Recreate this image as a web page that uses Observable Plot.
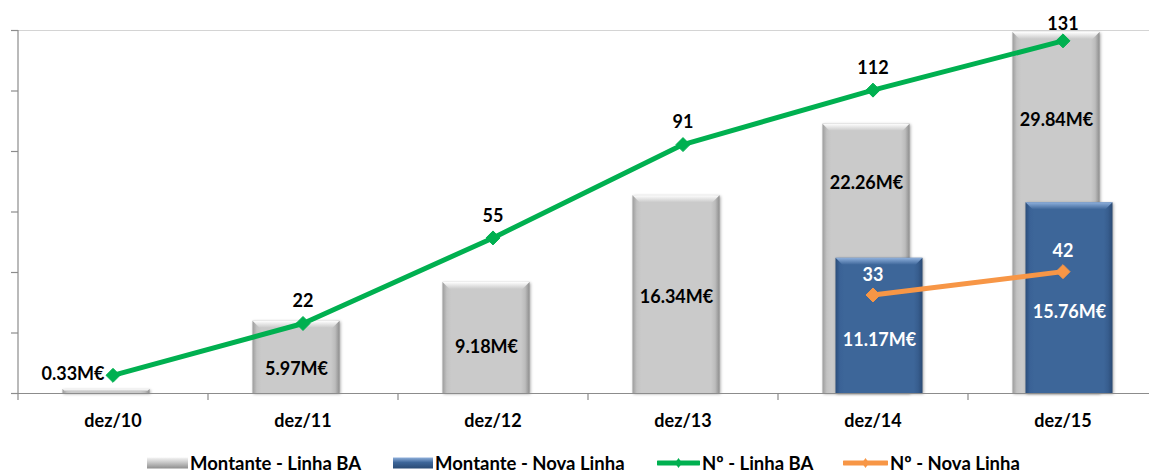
<!DOCTYPE html>
<html>
<head>
<meta charset="utf-8">
<script src="https://cdn.jsdelivr.net/npm/d3@7"></script>
<script src="https://cdn.jsdelivr.net/npm/@observablehq/plot@0.6"></script>
<style>
  html, body { margin: 0; padding: 0; background: #fff; overflow: hidden; }
  #chart { width: 1149px; height: 440px; }
  #legend { position: relative; width: 1149px; height: 32px; font-family: Lato, "Open Sans", sans-serif; font-weight: 700; font-size: 18.5px; color: #000; }
  .item { position: absolute; top: 12px; height: 22px; display: flex; align-items: center; white-space: nowrap; }
  .item svg { display: block; margin-right: 2px; }
</style>
</head>
<body>
<div id="chart"></div>
<div id="legend"></div>
<script>
// ---- data ----
const categories = ["dez/10", "dez/11", "dez/12", "dez/13", "dez/14", "dez/15"];
const montanteBA = [0.33, 5.97, 9.18, 16.34, 22.26, 29.84];        // M€
const montanteNova = [null, null, null, null, 11.17, 15.76];       // M€
const numBA = [2, 22, 55, 91, 112, 131];                           // Nº
const numNova = [null, null, null, null, 33, 42];                  // Nº
// where each amount label sits, in M€ on the amount axis
const labelAtBA = [1.57, 1.98, 3.8, 7.93, 17.36, 22.56];
const labelAtNova = [null, null, null, null, 4.38, 6.69];
const amountTicks = [0, 5, 10, 15, 20, 25, 30];
const countDomain = [-5, 135];   // secondary axis (Nº), shares the plot height
const amountDomain = [0, 30];

const fmtM = v => v.toFixed(2) + "M€";
const toAmount = n => amountDomain[0] + (n - countDomain[0]) * (amountDomain[1] - amountDomain[0]) / (countDomain[1] - countDomain[0]);

const rows = categories.map((c, i) => ({
  cat: c, ba: montanteBA[i], nova: montanteNova[i], nBA: numBA[i], nNova: numNova[i],
  lBA: labelAtBA[i], lNova: labelAtNova[i]
}));
const rowsNova = rows.filter(d => d.nova != null);

const font = "Lato, 'Open Sans', sans-serif";
const BAR_SHIFT = 6.5;
const FS = 18;

const defs = () => {
  const g = document.createElementNS("http://www.w3.org/2000/svg", "defs");
  g.innerHTML = `
    <linearGradient id="grayGrad" x1="0" x2="1" y1="0" y2="0">
      <stop offset="0" stop-color="#9c9c9c"/>
      <stop offset="0.05" stop-color="#c2c2c2"/>
      <stop offset="0.1" stop-color="#cacaca"/>
      <stop offset="0.9" stop-color="#cacaca"/>
      <stop offset="0.95" stop-color="#bcbcbc"/>
      <stop offset="1" stop-color="#8e8e8e"/>
    </linearGradient>
    <linearGradient id="blueGrad" x1="0" x2="1" y1="0" y2="0">
      <stop offset="0" stop-color="#2b4d7a"/>
      <stop offset="0.05" stop-color="#3a6296"/>
      <stop offset="0.1" stop-color="#3d6699"/>
      <stop offset="0.9" stop-color="#3d6699"/>
      <stop offset="0.95" stop-color="#375d8e"/>
      <stop offset="1" stop-color="#2a4a74"/>
    </linearGradient>
    <linearGradient id="grayTop" x1="0" x2="0" y1="0" y2="1">
      <stop offset="0" stop-color="#ffffff"/>
      <stop offset="1" stop-color="#cacaca"/>
    </linearGradient>
    <linearGradient id="blueTop" x1="0" x2="0" y1="0" y2="1">
      <stop offset="0" stop-color="#8fb0dc"/>
      <stop offset="1" stop-color="#3d6699"/>
    </linearGradient>`;
  return g;
};

const chart = Plot.plot({
  width: 1149,
  height: 440,
  marginLeft: 18,
  marginRight: 0,
  marginTop: 30,
  marginBottom: 47,
  style: { fontFamily: font, background: "#fff", overflow: "visible" },
  x: { type: "band", domain: categories, range: [18, 1158], paddingInner: 0.542, paddingOuter: 0.271, axis: null },
  y: { domain: amountDomain, axis: null },
  marks: [
    defs,
    Plot.ruleY([amountDomain[1]], { stroke: "#d4d4d4", strokeWidth: 1 }),
    Plot.barY(rows, { x: "cat", y: "ba", fill: "url(#grayGrad)", dx: -BAR_SHIFT }),
    Plot.barY(rowsNova, { x: "cat", y: "nova", fill: "url(#blueGrad)", dx: BAR_SHIFT }),
    Plot.ruleY([0], { stroke: "#8c8c8c", strokeWidth: 1.2 }),
    Plot.axisY({ ticks: amountTicks, tickSize: 7, tickFormat: () => "", stroke: "#8c8c8c", strokeWidth: 1.2 }),
    Plot.ruleX(categories, { x: d => d, dx: -95, y1: amountDomain[1], y2: 0, insetBottom: -7, stroke: "#8c8c8c", strokeWidth: 1.2, filter: (d, i) => i === 0 }),
    Plot.ruleX(categories, { x: d => d, dx: -95, y1: 0, y2: 0, insetBottom: -7, stroke: "#8c8c8c", strokeWidth: 1.2, filter: (d, i) => i > 0 }),
    Plot.text(categories, { x: d => d, y: 0, dy: 28, text: d => d, fontSize: FS, fontWeight: 700, fill: "#000" }),
    // lines (secondary axis)
    Plot.line(rows, { x: "cat", y: d => toAmount(d.nBA), stroke: "#00b050", strokeWidth: 5 }),
    Plot.dot(rows, { x: "cat", y: d => toAmount(d.nBA), symbol: "diamond2", r: 6.3, fill: "#00b050", stroke: "#00b050", strokeWidth: 1 }),
    Plot.line(rowsNova, { x: "cat", y: d => toAmount(d.nNova), stroke: "#f79646", strokeWidth: 5 }),
    Plot.dot(rowsNova, { x: "cat", y: d => toAmount(d.nNova), symbol: "diamond2", r: 6.3, fill: "#f79646", stroke: "#f79646", strokeWidth: 1 }),
    // count labels
    Plot.text(rows.filter((d, i) => i > 0 && i < 5), { x: "cat", y: d => toAmount(d.nBA), dy: -22, text: d => String(d.nBA), fontSize: FS, fontWeight: 700, fill: "#000" }),
    Plot.text(rows.filter((d, i) => i === 5), { x: "cat", y: d => toAmount(d.nBA), dy: -17, text: d => String(d.nBA), fontSize: FS, fontWeight: 700, fill: "#000" }),
    Plot.text(rowsNova, { x: "cat", y: d => toAmount(d.nNova), dy: -20, text: d => String(d.nNova), fontSize: FS, fontWeight: 700, fill: "#fff" }),
    // amount labels
    Plot.text(rows.filter((d, i) => i > 0), { x: "cat", y: "lBA", dx: -BAR_SHIFT, text: d => fmtM(d.ba), fontSize: FS, fontWeight: 700, fill: "#000" }),
    Plot.text(rows.filter((d, i) => i === 0), { x: "cat", y: "lBA", dx: -40, text: d => fmtM(d.ba), fontSize: FS, fontWeight: 700, fill: "#000" }),
    Plot.text(rowsNova, { x: "cat", y: "lNova", dx: BAR_SHIFT, text: d => fmtM(d.nova), fontSize: FS, fontWeight: 700, fill: "#fff" })
  ]
});

// bevel tops + soft shadow on bars
const NS = "http://www.w3.org/2000/svg";
[["url(#grayGrad)", "url(#grayTop)"], ["url(#blueGrad)", "url(#blueTop)"]].forEach(([fill, top]) => {
  chart.querySelectorAll("g").forEach(g => {
    if (g.getAttribute("fill") !== fill) return;
    g.style.filter = "drop-shadow(1.5px 1.5px 1.5px rgba(0,0,0,0.35))";
    Array.from(g.querySelectorAll("rect")).forEach(r => {
      const x = +r.getAttribute("x"), y = +r.getAttribute("y");
      const w = +r.getAttribute("width"), h = +r.getAttribute("height");
      const b = Math.min(7, h / 2);
      const p = document.createElementNS(NS, "polygon");
      p.setAttribute("points", `${x},${y} ${x + w},${y} ${x + w - b},${y + b} ${x + b},${y + b}`);
      p.setAttribute("fill", top);
      r.parentNode.appendChild(p);
    });
  });
});

document.getElementById("chart").appendChild(chart);

// legend
const legendItems = [
  { label: "Montante - Linha BA", kind: "bar", grad: ["#8e8e8e", "#f4f4f4", "#c8c8c8"], left: 147, w: 41 },
  { label: "Montante - Nova Linha", kind: "bar", grad: ["#2a4a74", "#8fb0dc", "#3d6699"], left: 393, w: 40 },
  { label: "Nº - Linha BA", kind: "line", color: "#00b050", left: 657, w: 43 },
  { label: "Nº - Nova Linha", kind: "line", color: "#f79646", left: 843, w: 45 }
];
const legend = document.getElementById("legend");
legendItems.forEach((it, k) => {
  const div = document.createElement("div");
  div.className = "item";
  div.style.left = it.left + "px";
  let sw;
  if (it.kind === "bar") {
    sw = `<svg width="${it.w}" height="12"><defs><linearGradient id="lg${k}" x1="0" x2="0" y1="0" y2="1">
      <stop offset="0" stop-color="${it.grad[1]}"/><stop offset="0.45" stop-color="${it.grad[2]}"/><stop offset="1" stop-color="${it.grad[0]}"/></linearGradient></defs>
      <rect x="0" y="0.5" width="${it.w}" height="11" fill="url(#lg${k})"/></svg>`;
  } else {
    const c = it.w / 2;
    sw = `<svg width="${it.w}" height="12"><line x1="1" x2="${it.w - 1}" y1="6" y2="6" stroke="${it.color}" stroke-width="5" stroke-linecap="round"/>
      <polygon points="${c},1 ${c + 3.5},6 ${c},11 ${c - 3.5},6" fill="${it.color}"/></svg>`;
  }
  div.innerHTML = sw + `<span>${it.label}</span>`;
  legend.appendChild(div);
});
</script>
</body>
</html>
